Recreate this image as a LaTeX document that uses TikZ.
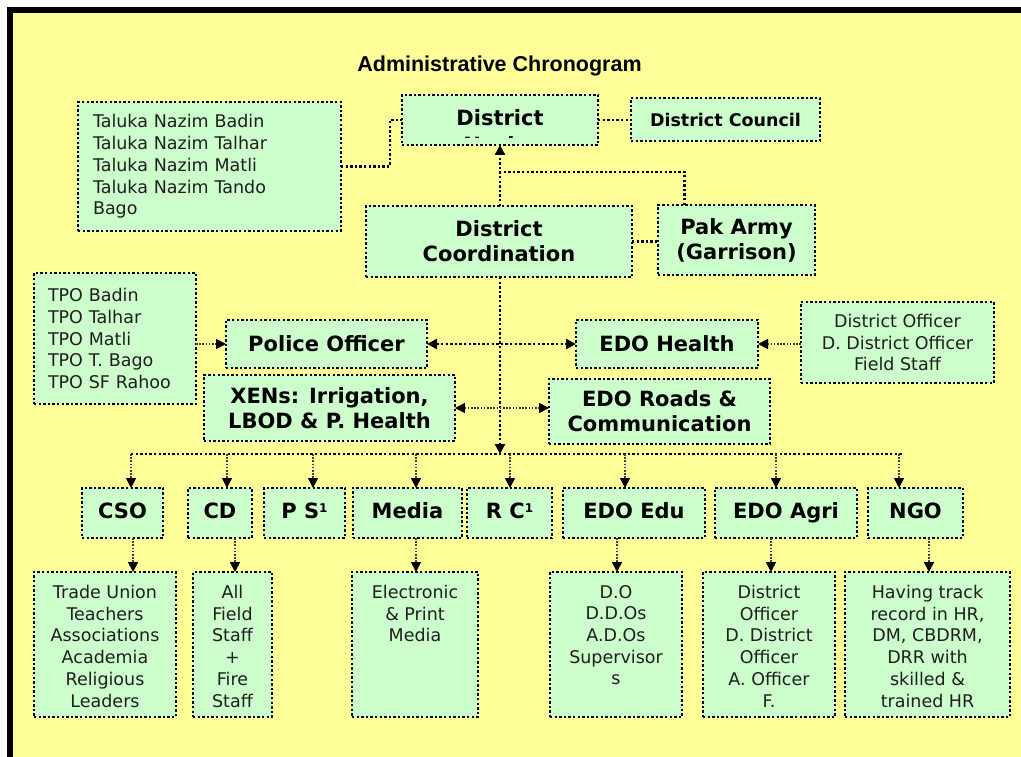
\documentclass[tikz,border=0pt]{standalone}
\usepackage{fontspec}
\setmainfont{DejaVu Sans}
\newfontfamily\titlefont{Liberation Sans}
\usetikzlibrary{arrows.meta}
\definecolor{bgyellow}{HTML}{FFFF99}
\definecolor{boxgreen}{HTML}{CCFFCC}
\definecolor{txtgray}{HTML}{1E1E1E}
\newcommand{\supone}{\raisebox{0.55ex}{\fontsize{12}{12}\selectfont 1}}
\tikzset{
  box/.style={draw=black, fill=boxgreen, line width=2.6pt, dash pattern=on 2.4pt off 2.2pt, inner sep=0pt, outer sep=0pt},
  hd/.style={font=\fontsize{21}{25}\selectfont\bfseries, align=center, text=black},
  rowbox/.style={box, hd, minimum height=50pt, text height=15.5pt, text depth=4.5pt},
  bd/.style={font=\fontsize{17.5}{21.7}\selectfont, align=center, text=txtgray},
  heavy/.style={draw=black, line width=2.6pt, dash pattern=on 2.4pt off 2.2pt},
  light/.style={draw=black!75, line width=1.6pt, dash pattern=on 1.6pt off 1.6pt},
  tipend/.style={-{Triangle[length=10pt,width=10pt,color=black]}},
  tipboth/.style={{Triangle[length=10pt,width=10pt,color=black]}-{Triangle[length=10pt,width=10pt,color=black]}},
}
\begin{document}
\begin{tikzpicture}[x=1pt,y=-1pt]
\useasboundingbox (0,0) rectangle (1021,757);
\fill[white] (0,0) rectangle (1021,757);
\fill[bgyellow] (13,13) rectangle (1021,757);
\fill[black] (7,7) rectangle (1021,13);
\fill[black] (7,7) rectangle (13,757);

\node[font=\titlefont\bfseries\fontsize{21.5}{25}\selectfont] (title) at (499.5,66) {Administrative Chronogram};

% upper part
\node[box, bd, align=left, text width=233pt, inner xsep=15pt, minimum height=129pt] (taluka) at (209.5,166.5)
  {Taluka Nazim Badin\\Taluka Nazim Talhar\\Taluka Nazim Matli\\Taluka Nazim Tando\\Bago};
\node[box, minimum width=196pt, minimum height=50pt] (nazim) at (500,120) {};
\begin{scope}
\clip (nazim.north west) rectangle ([yshift=7.5pt]nazim.south east);
\node[hd, anchor=base] (nazimA) at (500,126) {District};
\node[hd, anchor=base] (nazimB) at (500,153) {Nazim};
\end{scope}
\node[box, font=\fontsize{17.5}{21}\selectfont\bfseries, minimum width=189pt, minimum height=43pt] (council) at (725.5,119.5) {District Council};
\node[box, hd, minimum width=266pt, minimum height=71pt] (coord) at (499,241.5) {District\\Coordination};
\node[box, hd, minimum width=157pt, minimum height=70pt] (army) at (736.5,240) {Pak Army\\(Garrison)};

\node[box, bd, align=left, text width=134pt, inner xsep=14pt, minimum height=131pt] (tpo) at (115,338.5)
  {TPO Badin\\TPO Talhar\\TPO Matli\\TPO T. Bago\\TPO SF Rahoo};
\node[box, hd, minimum width=201pt, minimum height=48pt] (police) at (326.5,344) {Police Officer};
\node[box, hd, minimum width=182pt, minimum height=48pt] (edoh) at (667,344) {EDO Health};
\node[box, bd, minimum width=193pt, minimum height=81pt] (do) at (897.5,342.5) {District Officer\\D. District Officer\\Field Staff};
\node[box, hd, minimum width=251pt, minimum height=66pt] (xen) at (329.5,408) {XENs: Irrigation,\\LBOD \& P. Health};
\node[box, hd, minimum width=221pt, minimum height=65pt] (roads) at (659.5,411.5) {EDO Roads \&\\Communication};

% top row
\node[rowbox, minimum width=81pt] (cso) at (122.5,513) {CSO};
\node[rowbox, minimum width=64pt] (cd) at (220,513) {CD};
\node[rowbox, minimum width=81pt] (ps) at (304.5,513) {P S\supone};
\node[rowbox, minimum width=109pt] (media) at (407.5,513) {Media};
\node[rowbox, minimum width=85pt] (rc) at (509.5,513) {R C\supone};
\node[rowbox, minimum width=142pt] (edu) at (634,513) {EDO Edu};
\node[rowbox, minimum width=142pt] (agri) at (786,513) {EDO Agri};
\node[rowbox, minimum width=95pt] (ngo) at (915.5,513) {NGO};

% bottom row
\node[box, minimum width=142pt, minimum height=145pt] (csos) at (105,644.5) {};
\node[box, minimum width=79pt, minimum height=145pt] (cds) at (232.5,644.5) {};
\node[box, minimum width=126pt, minimum height=145pt] (medias) at (415,644.5) {};
\node[box, minimum width=132pt, minimum height=145pt] (edus) at (616,644.5) {};
\node[box, minimum width=132pt, minimum height=145pt] (agris) at (769,644.5) {};
\node[box, minimum width=165pt, minimum height=145pt] (ngos) at (927.5,644.5) {};
\node[bd, anchor=north, inner sep=0pt] (csost) at ([yshift=-13pt]csos.north) {Trade Union\\Teachers\\Associations\\Academia\\Religious\\Leaders};
\node[bd, anchor=north, inner sep=0pt] (cdst) at ([yshift=-13pt]cds.north) {All\\Field\\Staff\\+\\Fire\\Staff};
\node[bd, anchor=north, inner sep=0pt] (mediast) at ([yshift=-13pt]medias.north) {Electronic\\\& Print\\Media};
\node[bd, anchor=north, inner sep=0pt] (edust) at ([yshift=-13pt]edus.north) {D.O\\D.D.Os\\A.D.Os\\Supervisor\\s};
\node[bd, anchor=north, inner sep=0pt] (agrist) at ([yshift=-13pt]agris.north) {District\\Officer\\D. District\\Officer\\A. Officer\\F.};
\node[bd, anchor=north, inner sep=0pt] (ngost) at ([yshift=-13pt]ngos.north) {Having track\\record in HR,\\DM, CBDRM,\\DRR with\\skilled \&\\trained HR};

% connectors
\draw[heavy] (taluka.east) -- ++(49,0) |- (nazim.west);
\draw[heavy] (nazim.east) -- (nazim.east -| council.west);
\draw[heavy,tipend] (coord.north -| nazim.south) -- (nazim.south);
\coordinate (j1) at (500,172);
\draw[heavy] ([xshift=-52pt]army.north) |- (j1);
\draw[heavy] (coord.east) -- (coord.east -| army.west);
\coordinate (busL) at (131,454);
\coordinate (busR) at (902,454);
\draw[heavy] (busL) -- (busR);
\draw[heavy,tipend] (coord.south -| nazim.south) -- (busL -| nazim.south);
\draw[heavy,tipboth] (police.east) -- (police.east -| edoh.west);
\draw[light,tipboth] (xen.east) -- (xen.east -| roads.west);
\draw[light,tipend] (tpo.east |- police.west) -- (police.west);
\draw[light,tipend] (do.west |- edoh.east) -- (edoh.east);
\foreach \n/\x in {cso/131, cd/227, ps/313, media/416, rc/510, edu/625, agri/776, ngo/899}
  \draw[light,tipend] (busL -| \x,0) -- (\n.north -| \x,0);
\foreach \a/\b/\x in {cso/csos/133, cd/cds/235, media/medias/416, edu/edus/617, agri/agris/771, ngo/ngos/929}
  \draw[light,tipend] (\a.south -| \x,0) -- (\b.north -| \x,0);
\end{tikzpicture}
\end{document}
